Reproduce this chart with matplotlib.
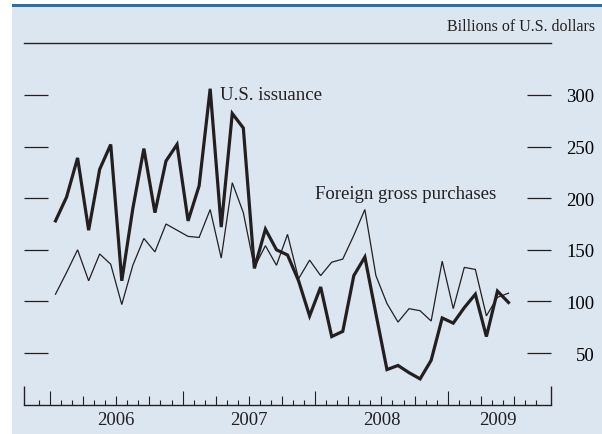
import numpy as np
import matplotlib
matplotlib.use("Agg")
import matplotlib.pyplot as plt
from matplotlib.patches import Rectangle
import matplotlib.transforms as mtransforms

plt.rcParams["font.family"] = ["Liberation Serif", "DejaVu Serif"]

# monthly data, Jan 2006 - Jun 2009 (billions of U.S. dollars)
us_issuance = [178, 201, 239, 169, 228, 252, 120, 190, 248, 186, 236, 252,
               178, 212, 306, 172, 282, 268, 132, 170, 150, 145, 120, 86,
               114, 66, 71, 125, 143, 88, 34, 38, 31, 25, 43, 84,
               79, 94, 107, 66, 110, 99]
foreign_purchases = [107, 128, 150, 120, 146, 136, 97, 135, 161, 148, 175, 169,
                     163, 162, 189, 142, 215, 186, 133, 154, 135, 165, 122, 140,
                     125, 138, 141, 164, 189, 125, 98, 80, 93, 91, 81, 139,
                     93, 133, 131, 86, 104, 108]
years = ["2006", "2007", "2008", "2009"]
year_label_pos = [6, 18, 30, 40.5]
y_ticks = [50, 100, 150, 200, 250, 300]

months = np.arange(len(us_issuance)) + 0.5   # mid-month, 0 = Jan 1 2006

W, H = 602, 435
bg = "#dce6f1"
ink = "#231f20"

fig = plt.figure(figsize=(W / 100, H / 100), dpi=100)
fig.patch.set_facecolor("white")
fig.add_artist(Rectangle((12 / W, 0), 590 / W, (H - 8) / H, transform=fig.transFigure,
                         facecolor=bg, edgecolor="none", zorder=0))
fig.add_artist(Rectangle((12 / W, (H - 8) / H), 590 / W, 3 / H, transform=fig.transFigure,
                         facecolor="#2a6fad", edgecolor="none", zorder=0))

ax = fig.add_axes([24 / W, (H - 405.7) / H, (550.7 - 24) / W, (405.7 - 44.3) / H])
ax.patch.set_alpha(0)

ax.plot(months, foreign_purchases, color=ink, lw=0.9, solid_joinstyle="miter")
ax.plot(months, us_issuance, color=ink, lw=2.3, solid_joinstyle="miter")

ax.set_xlim(-2.35, 45.32)
ax.set_ylim(0, 350)

for s in ["left", "right"]:
    ax.spines[s].set_visible(False)
ax.spines["top"].set_linewidth(1.0)
ax.spines["bottom"].set_linewidth(1.0)
ax.spines["top"].set_color(ink)
ax.spines["bottom"].set_color(ink)

# y ticks: short dashes at both sides, labels on the right
ax.set_yticks(y_ticks)
ax.set_yticklabels([str(v) for v in y_ticks])
ax.tick_params(axis="y", direction="in", length=17, width=0.9, color=ink,
               left=True, right=True, labelleft=False, labelright=True,
               labelsize=13.5, pad=31.5)
for lab in ax.get_yticklabels():
    lab.set_horizontalalignment("right")

# x ticks: month / quarter / year marks drawn from the baseline
ax.set_xticks([])
trans = ax.get_xaxis_transform()
hpx = 405.7 - 44.3
for m in range(-1, 45):
    if m % 12 == 0:
        h = 14
    elif m % 3 == 0:
        h = 9
    else:
        h = 4.7
    ax.vlines(m, 0, h / hpx, transform=trans, color=ink, lw=0.8, clip_on=False)
for edge in ax.get_xlim():
    ax.vlines(edge, 0, 18.5 / hpx, transform=trans, color=ink, lw=1.0, clip_on=False)

for pos, yr in zip(year_label_pos, years):
    ax.text(pos, -15.3 / hpx, yr, transform=trans, ha="center", va="center",
            fontsize=13.5, color=ink)

ax.text(15.39, 300, "U.S. issuance", ha="left", va="center", fontsize=13.5, color=ink)
ax.text(23.99, 205, "Foreign gross purchases", ha="left", va="center",
        fontsize=13.5, color=ink)

fig.text(595 / W, (H - 27) / H, "Billions of U.S. dollars", ha="right", va="center",
         fontsize=11.5, color=ink)

fig.savefig("out.png", dpi=100)
